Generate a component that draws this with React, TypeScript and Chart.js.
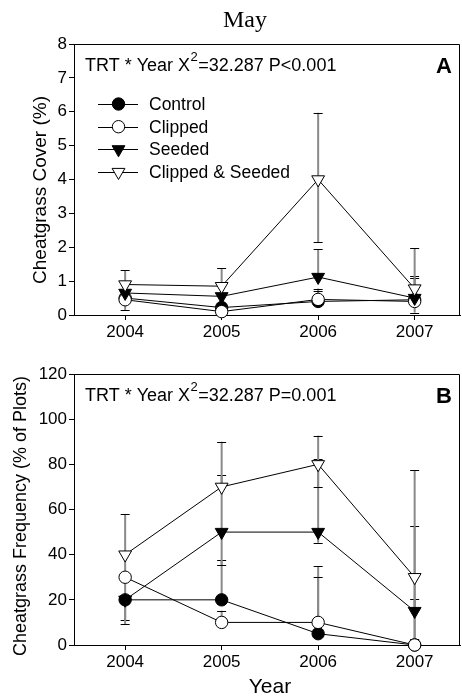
import React, { useEffect, useRef } from 'react';
import { Chart, registerables } from 'chart.js';

Chart.register(...registerables);

// ---------- data ----------
const years = [2004, 2005, 2006, 2007];
const seriesNames = ['Control', 'Clipped', 'Seeded', 'Clipped & Seeded'];
const coverTicks = [0, 1, 2, 3, 4, 5, 6, 7, 8];
const freqTicks = [0, 20, 40, 60, 80, 100, 120];

// Panel A: Cheatgrass cover (%)
const coverControl = [0.5, 0.22, 0.4, 0.45];
const coverClipped = [0.45, 0.1, 0.46, 0.4];
const coverSeeded = [0.65, 0.55, 1.12, 0.5];
const coverClippedSeeded = [0.9, 0.85, 4.0, 0.78];
const coverControlErrUp = [0, 0, 0.38, 0.7];
const coverControlErrDown = [0.35, 0, 0, 0];
const coverClippedErrUp = [0, 0, 0.26, 0];
const coverClippedErrDown = [0, 0, 0, 0.33];
const coverSeededErrUp = [0, 0, 0.82, 0.6];
const coverSeededErrDown = [0, 0, 0, 0];
const coverClippedSeededErrUp = [0.42, 0.53, 1.97, 1.19];
const coverClippedSeededErrDown = [0.42, 0.53, 1.85, 0];

// Panel B: Cheatgrass frequency (% of plots)
const freqControl = [20, 20, 5, 0];
const freqClipped = [30, 10, 10, 0];
const freqSeeded = [20, 50, 50, 15];
const freqClippedSeeded = [40, 70, 80, 30];
const freqControlErrUp = [0, 17.6, 30, 0];
const freqControlErrDown = [9, 0, 0, 0];
const freqClippedErrUp = [0, 5.2, 20.3, 20.2];
const freqClippedErrDown = [0, 0, 0, 0];
const freqSeededErrUp = [0, 25.3, 32.2, 37.7];
const freqSeededErrDown = [10.7, 14.6, 4.7, 0];
const freqClippedSeededErrUp = [18, 20, 12.7, 47.5];
const freqClippedSeededErrDown = [18, 0, 10, 27.5];

// ---------- styles ----------
const SANS = 'Arial, "Liberation Sans", sans-serif';
const SERIF = '"Times New Roman", "Liberation Serif", serif';
const markerStyles = [
  { shape: 'circle', fill: '#000000', radius: 6.2 },
  { shape: 'circle', fill: '#ffffff', radius: 6.2 },
  { shape: 'triangle', fill: '#000000', radius: 7.4 },
  { shape: 'triangle', fill: '#ffffff', radius: 7.4 },
];

type PanelDef = {
  values: number[][];
  up: number[][];
  down: number[][];
  ticks: number[];
  yTitle: string;
  yTitleSize: number;
  yTitleX: number;
  annotation: string[];
  letter: string;
  top: boolean;
  height: number;
  areaTop: number;
  axisHeight: number;
  yTitleCenter: number;
};

const panels: PanelDef[] = [
  {
    values: [coverControl, coverClipped, coverSeeded, coverClippedSeeded],
    up: [coverControlErrUp, coverClippedErrUp, coverSeededErrUp, coverClippedSeededErrUp],
    down: [coverControlErrDown, coverClippedErrDown, coverSeededErrDown, coverClippedSeededErrDown],
    ticks: coverTicks,
    yTitle: 'Cheatgrass Cover (%)',
    yTitleSize: 19,
    yTitleX: 41,
    annotation: ['TRT * Year X', '2', '=32.287 P<0.001'],
    letter: 'A',
    top: true,
    height: 345,
    areaTop: 44,
    axisHeight: 30,
    yTitleCenter: 190,
  },
  {
    values: [freqControl, freqClipped, freqSeeded, freqClippedSeeded],
    up: [freqControlErrUp, freqClippedErrUp, freqSeededErrUp, freqClippedSeededErrUp],
    down: [freqControlErrDown, freqClippedErrDown, freqSeededErrDown, freqClippedSeededErrDown],
    ticks: freqTicks,
    yTitle: 'Cheatgrass Frequency (% of Plots)',
    yTitleSize: 18,
    yTitleX: 21.5,
    annotation: ['TRT * Year X', '2', '=32.287 P=0.001'],
    letter: 'B',
    top: false,
    height: 351,
    areaTop: 29,
    axisHeight: 51,
    yTitleCenter: 171,
  },
];

function drawMarker(ctx: CanvasRenderingContext2D, x: number, y: number, idx: number) {
  const m = markerStyles[idx];
  ctx.save();
  ctx.beginPath();
  if (m.shape === 'circle') {
    ctx.arc(x, y, m.radius, 0, Math.PI * 2);
  } else {
    const r = m.radius;
    ctx.moveTo(x, y + r);
    ctx.lineTo(x - r * Math.sin(Math.PI / 3), y - r / 2);
    ctx.lineTo(x + r * Math.sin(Math.PI / 3), y - r / 2);
    ctx.closePath();
  }
  ctx.fillStyle = m.fill;
  ctx.fill();
  ctx.lineWidth = 1;
  ctx.strokeStyle = '#000';
  ctx.stroke();
  ctx.restore();
}

function zeroPad(s: any) {
  s.paddingLeft = 0;
  s.paddingRight = 0;
  s.paddingTop = 0;
  s.paddingBottom = 0;
}

function makeConfig(p: PanelDef): any {
  const datasets = p.values.map((vals, i) => ({
    label: seriesNames[i],
    data: years.map((yr, j) => ({ x: yr, y: vals[j] })),
    borderColor: '#000',
    borderWidth: 1,
    backgroundColor: markerStyles[i].fill,
    pointBackgroundColor: markerStyles[i].fill,
    pointBorderColor: '#000',
    pointBorderWidth: 1,
    pointStyle: markerStyles[i].shape,
    pointRotation: markerStyles[i].shape === 'triangle' ? 180 : 0,
    pointRadius: markerStyles[i].radius,
    tension: 0,
    fill: false,
    clip: false,
    order: 4 - i,
  }));

  const errorBars = {
    id: 'errorBars',
    beforeDatasetsDraw(chart: any) {
      const ctx = chart.ctx;
      const xs = chart.scales.x;
      const ys = chart.scales.y;
      const area = chart.chartArea;
      ctx.save();
      p.values.forEach((vals, i) => {
        vals.forEach((v, j) => {
          const px = xs.getPixelForValue(years[j]);
          const hi = v + p.up[i][j];
          const lo = v - p.down[i][j];
          const draw = (end: number) => {
            const clipped = end < ys.min;
            const py = clipped ? area.bottom : ys.getPixelForValue(end);
            const py0 = ys.getPixelForValue(v);
            ctx.beginPath();
            ctx.strokeStyle = '#8a8a8a';
            ctx.lineWidth = 2;
            ctx.moveTo(px, py0);
            ctx.lineTo(px, py);
            ctx.stroke();
            if (!clipped) {
              ctx.beginPath();
              ctx.strokeStyle = '#000';
              ctx.lineWidth = 1;
              ctx.moveTo(px - 4.5, Math.round(py) + 0.5);
              ctx.lineTo(px + 4.5, Math.round(py) + 0.5);
              ctx.stroke();
            }
          };
          if (p.up[i][j] > 0) draw(hi);
          if (p.down[i][j] > 0) draw(lo);
        });
      });
      ctx.restore();
    },
  };

  const decor = {
    id: 'decor',
    afterDraw(chart: any) {
      const ctx = chart.ctx;
      const a = chart.chartArea;
      ctx.save();
      // frame
      ctx.strokeStyle = '#000';
      ctx.lineWidth = 1;
      ctx.beginPath();
      ctx.moveTo(a.left, Math.round(a.top) + 0.5);
      ctx.lineTo(Math.round(a.right) - 0.5, Math.round(a.top) + 0.5);
      ctx.lineTo(Math.round(a.right) - 0.5, a.bottom);
      ctx.stroke();

      ctx.fillStyle = '#000';
      // annotation
      const baseY = a.top + 27;
      let x = 85;
      ctx.textBaseline = 'alphabetic';
      ctx.textAlign = 'left';
      ctx.font = `18px ${SANS}`;
      ctx.fillText(p.annotation[0], x, baseY);
      x += ctx.measureText(p.annotation[0]).width;
      ctx.font = `13px ${SANS}`;
      ctx.fillText(p.annotation[1], x + 0.5, baseY - 10.5);
      x += ctx.measureText(p.annotation[1]).width + 1;
      ctx.font = `18px ${SANS}`;
      ctx.fillText(p.annotation[2], x, baseY);

      // panel letter
      ctx.font = `bold 22px ${SANS}`;
      ctx.textAlign = 'center';
      ctx.fillText(p.letter, 444, a.top + 29);

      // y title
      ctx.save();
      ctx.translate(p.yTitleX, p.yTitleCenter);
      ctx.rotate(-Math.PI / 2);
      ctx.font = `${p.yTitleSize}px ${SANS}`;
      ctx.textAlign = 'center';
      ctx.textBaseline = 'middle';
      ctx.fillText(p.yTitle, 0, 0);
      ctx.restore();

      if (p.top) {
        ctx.font = `24px ${SERIF}`;
        ctx.textAlign = 'center';
        ctx.textBaseline = 'alphabetic';
        ctx.fillText('May', 245, 27);
        // legend
        seriesNames.forEach((name, i) => {
          const ly = 104 + i * 22.7;
          ctx.beginPath();
          ctx.strokeStyle = '#000';
          ctx.lineWidth = 1;
          ctx.moveTo(98, Math.round(ly) + 0.5);
          ctx.lineTo(138, Math.round(ly) + 0.5);
          ctx.stroke();
          drawMarker(ctx, 118.5, ly, i);
          ctx.fillStyle = '#000';
          ctx.font = `17.5px ${SANS}`;
          ctx.textAlign = 'left';
          ctx.textBaseline = 'middle';
          ctx.fillText(name, 149, ly + 1);
        });
      } else {
        ctx.font = `21px ${SANS}`;
        ctx.textAlign = 'center';
        ctx.textBaseline = 'alphabetic';
        ctx.fillText('Year', 270, 348);
      }
      ctx.restore();
    },
  };

  const tickFont = { size: 17, family: SANS };
  return {
    type: 'line',
    data: { datasets },
    plugins: [errorBars, decor],
    options: {
      animation: false,
      responsive: false,
      devicePixelRatio: 1,
      layout: { autoPadding: false, padding: { top: p.areaTop, right: 2, left: 0, bottom: 0 } },
      plugins: { legend: { display: false }, tooltip: { enabled: false }, title: { display: false } },
      scales: {
        x: {
          type: 'linear',
          min: 2003.47,
          max: 2007.47,
          afterBuildTicks: (s: any) => {
            s.ticks = years.map((v) => ({ value: v }));
          },
          afterFit: (s: any) => {
            s.height = p.axisHeight;
            zeroPad(s);
          },
          ticks: {
            callback: (v: any) => String(v),
            font: tickFont,
            color: '#000',
            padding: 2,
            maxRotation: 0,
            autoSkip: false,
          },
          grid: { display: true, drawOnChartArea: false, drawTicks: true, tickLength: 5, color: '#000' },
          border: { display: true, color: '#000', width: 1 },
        },
        y: {
          type: 'linear',
          min: p.ticks[0],
          max: p.ticks[p.ticks.length - 1],
          afterBuildTicks: (s: any) => {
            s.ticks = p.ticks.map((v) => ({ value: v }));
          },
          afterFit: (s: any) => {
            s.width = 74;
            zeroPad(s);
          },
          ticks: { font: tickFont, color: '#000', padding: 2, callback: (v: any) => String(v) },
          grid: { display: true, drawOnChartArea: false, drawTicks: true, tickLength: 5, color: '#000' },
          border: { display: true, color: '#000', width: 1 },
        },
      },
    },
  };
}

function Panel({ p }: { p: PanelDef }) {
  const ref = useRef<HTMLCanvasElement | null>(null);
  useEffect(() => {
    if (!ref.current) return;
    const chart = new Chart(ref.current, makeConfig(p));
    return () => chart.destroy();
  }, [p]);
  return (
    <canvas
      ref={ref}
      width={462}
      height={p.height}
      style={{ display: 'block', width: 462, height: p.height }}
    />
  );
}

export default function App() {
  return (
    <div style={{ position: 'absolute', left: 0, top: 0, width: 462, height: 696, background: '#fff' }}>
      {panels.map((p, i) => (
        <Panel key={i} p={p} />
      ))}
    </div>
  );
}
